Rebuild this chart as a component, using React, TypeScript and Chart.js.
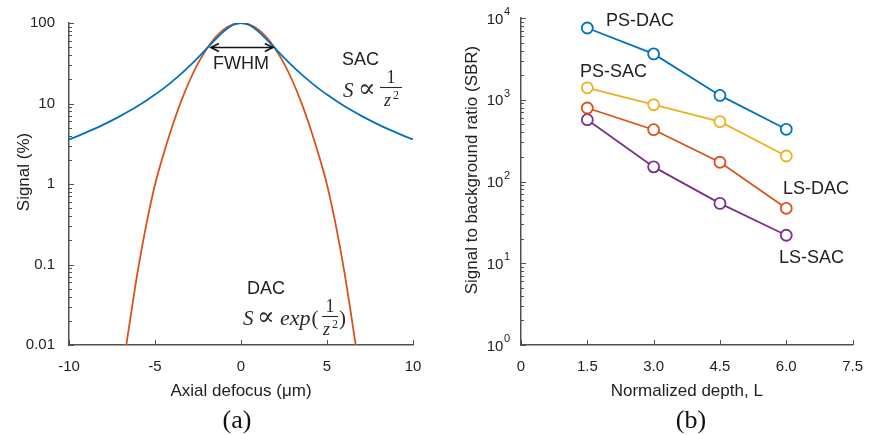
import React, { useEffect, useRef } from "react";
import { Chart, registerables } from "chart.js";

Chart.register(...registerables);

// ---------- data: panel (a) ----------
const sacDefocus = [-10, -9.5, -9, -8.5, -8, -7.5, -7, -6.5, -6, -5.5, -5, -4.5, -4, -3.5, -3, -2.5, -2, -1.5, -1, -0.5, 0, 0.5, 1, 1.5, 2, 2.5, 3, 3.5, 4, 4.5, 5, 5.5, 6, 6.5, 7, 7.5, 8, 8.5, 9, 9.5, 10];
const sacSignal = [3.57, 3.94, 4.37, 4.87, 5.46, 6.17, 7.02, 8.05, 9.32, 10.9, 12.9, 15.4, 18.8, 23.2, 29.1, 37.2, 48.1, 62.2, 78.7, 93.7, 100, 93.7, 78.7, 62.2, 48.1, 37.2, 29.1, 23.2, 18.8, 15.4, 12.9, 10.9, 9.32, 8.05, 7.02, 6.17, 5.46, 4.87, 4.37, 3.94, 3.57];
const dacDefocus = [-7, -6.5, -6, -5.5, -5, -4.5, -4, -3.5, -3, -2.5, -2, -1.5, -1, -0.5, 0, 0.5, 1, 1.5, 2, 2.5, 3, 3.5, 4, 4.5, 5, 5.5, 6, 6.5, 7];
const dacSignal = [0.0034, 0.0173, 0.0834, 0.318, 0.98, 2.36, 5.18, 10.4, 18.9, 31.5, 47.7, 66.0, 83.1, 95.5, 100, 95.5, 83.1, 66.0, 47.7, 31.5, 18.9, 10.4, 5.18, 2.36, 0.98, 0.318, 0.0834, 0.0173, 0.0034];
const aXTicks = [-10, -5, 0, 5, 10];
const aXTickLabels = ["-10", "-5", "0", "5", "10"];
const aYTicks = [0.01, 0.1, 1, 10, 100];
const aYTickLabels = ["0.01", "0.1", "1", "10", "100"];

// ---------- data: panel (b) ----------
const depthL = [1.5, 3.0, 4.5, 6.0];
const psDac = [7550, 3640, 1130, 435];
const psSac = [1400, 869, 540, 205];
const lsDac = [793, 430, 172, 47];
const lsSac = [570, 151, 54, 22];
const bXTicks = [0, 1.5, 3.0, 4.5, 6.0, 7.5];
const bXTickLabels = ["0", "1.5", "3.0", "4.5", "6.0", "7.5"];
const bYTicks = [1, 10, 100, 1000, 10000];
const bYTickBase = "10";
const bYTickExponents = ["0", "1", "2", "3", "4"];

// ---------- style ----------
const BLUE = "#0072BD";
const RED = "#D95319";
const YELLOW = "#EDB120";
const PURPLE = "#7E2F8E";
const AXIS = "#505050";
const TEXT = "#222222";
const MATH = "#2a2a2a";
const SANS = "'Liberation Sans', Arial, Helvetica, sans-serif";
const SERIF = "'Liberation Serif', 'Times New Roman', 'DejaVu Serif', serif";
const W = 438;
const H = 435;

function zip(xs: number[], ys: number[]) {
  return xs.map((x, i) => ({ x, y: ys[i] }));
}

function drawInwardTicks(chart: any) {
  const { ctx, chartArea, scales } = chart;
  const xs = scales.x;
  const ys = scales.y;
  ctx.save();
  ctx.strokeStyle = AXIS;
  ctx.lineWidth = 1;
  xs.ticks.forEach((t: any) => {
    const px = Math.round(xs.getPixelForValue(t.value)) + 0.5;
    ctx.beginPath();
    ctx.moveTo(px, chartArea.bottom);
    ctx.lineTo(px, chartArea.bottom - 5);
    ctx.stroke();
  });
  const d0 = Math.round(Math.log10(ys.min));
  const d1 = Math.round(Math.log10(ys.max));
  for (let d = d0; d <= d1; d++) {
    for (let k = 1; k <= 9; k++) {
      const v = k * Math.pow(10, d);
      if (v > ys.max * 1.0001) break;
      const py = Math.round(ys.getPixelForValue(v)) + 0.5;
      const len = k === 1 ? 5 : 3;
      ctx.beginPath();
      ctx.moveTo(chartArea.left, py);
      ctx.lineTo(chartArea.left + len, py);
      ctx.stroke();
    }
  }
  ctx.restore();
}

function rotatedText(ctx: any, text: string, x: number, y: number, size: number) {
  ctx.save();
  ctx.translate(x, y);
  ctx.rotate(-Math.PI / 2);
  ctx.font = `${size}px ${SANS}`;
  ctx.fillStyle = TEXT;
  ctx.textAlign = "center";
  ctx.textBaseline = "middle";
  ctx.fillText(text, 0, 0);
  ctx.restore();
}

function sansText(ctx: any, text: string, x: number, y: number, size: number, align: string = "left") {
  ctx.save();
  ctx.font = `${size}px ${SANS}`;
  ctx.fillStyle = TEXT;
  ctx.textAlign = align;
  ctx.textBaseline = "middle";
  ctx.fillText(text, x, y);
  ctx.restore();
}

// draws math text, returns its width
function mathText(ctx: any, text: string, x: number, y: number, size: number, italic: boolean, align: string = "left") {
  ctx.save();
  ctx.font = `${italic ? "italic " : ""}${size}px ${SERIF}`;
  ctx.fillStyle = MATH;
  ctx.textAlign = align;
  ctx.textBaseline = "alphabetic";
  ctx.fillText(text, x, y);
  const w = ctx.measureText(text).width;
  ctx.restore();
  return w;
}

// fraction 1 / z^2 with bar from x0 to x1 at barY
function fracOneOverZ2(ctx: any, x0: number, x1: number, barY: number) {
  const cx = (x0 + x1) / 2;
  mathText(ctx, "1", cx, barY - 4, 18, false, "center");
  ctx.save();
  ctx.strokeStyle = MATH;
  ctx.lineWidth = 1.1;
  ctx.beginPath();
  ctx.moveTo(x0, barY + 0.5);
  ctx.lineTo(x1, barY + 0.5);
  ctx.stroke();
  ctx.restore();
  mathText(ctx, "z", cx - 3.5, barY + 19, 18, true, "center");
  mathText(ctx, "2", cx + 5, barY + 12, 12, false, "center");
}

function arrowHead(ctx: any, x: number, y: number, dir: number) {
  ctx.beginPath();
  ctx.moveTo(x + dir * 8, y - 4);
  ctx.lineTo(x, y);
  ctx.lineTo(x + dir * 8, y + 4);
  ctx.stroke();
}

function panelLabel(ctx: any, text: string, x: number, y: number) {
  ctx.save();
  ctx.font = `26px ${SERIF}`;
  ctx.fillStyle = "#111";
  ctx.textAlign = "center";
  ctx.textBaseline = "middle";
  ctx.fillText(text, x, y);
  ctx.restore();
}

const FWHM_FROM = -1.75;
const FWHM_TO = 1.85;
const FWHM_LEVEL = 51;

const panelAPlugin = {
  id: "panelA",
  afterDraw(chart: any) {
    const { ctx, scales } = chart;
    drawInwardTicks(chart);
    rotatedText(ctx, "Signal (%)", 24, 172, 17);
    // FWHM arrow
    const x1 = scales.x.getPixelForValue(FWHM_FROM);
    const x2 = scales.x.getPixelForValue(FWHM_TO);
    const yy = Math.round(scales.y.getPixelForValue(FWHM_LEVEL)) + 0.5;
    ctx.save();
    ctx.strokeStyle = "#111";
    ctx.lineWidth = 1.6;
    ctx.beginPath();
    ctx.moveTo(x1, yy);
    ctx.lineTo(x2, yy);
    ctx.stroke();
    arrowHead(ctx, x1, yy, 1);
    arrowHead(ctx, x2, yy, -1);
    ctx.restore();
    sansText(ctx, "FWHM", 241, 64, 18, "center");
    // SAC
    sansText(ctx, "SAC", 342, 60, 18);
    mathText(ctx, "S", 343, 97, 21, true);
    mathText(ctx, "\u221D", 358, 97, 26, false);
    fracOneOverZ2(ctx, 380, 402, 87);
    // DAC
    sansText(ctx, "DAC", 247, 289, 18);
    mathText(ctx, "S", 243, 325, 21, true);
    mathText(ctx, "\u221D", 257, 325, 26, false);
    const ew = mathText(ctx, "exp", 280, 325, 22, true);
    mathText(ctx, "(", 280 + ew + 1, 325, 21, false);
    fracOneOverZ2(ctx, 322, 338, 316);
    mathText(ctx, ")", 339, 325, 21, false);
    panelLabel(ctx, "(a)", 237, 421);
  },
};

const panelBPlugin = {
  id: "panelB",
  afterDraw(chart: any) {
    const { ctx, scales, chartArea } = chart;
    drawInwardTicks(chart);
    // power-of-ten tick labels
    const R = chartArea.left - 11;
    bYTicks.forEach((v, i) => {
      const py = scales.y.getPixelForValue(v);
      ctx.save();
      ctx.fillStyle = TEXT;
      ctx.textBaseline = "alphabetic";
      ctx.font = `11px ${SANS}`;
      const ew = ctx.measureText(bYTickExponents[i]).width;
      ctx.textAlign = "left";
      ctx.fillText(bYTickExponents[i], R - ew, py - 3);
      ctx.font = `15px ${SANS}`;
      ctx.textAlign = "right";
      ctx.fillText(bYTickBase, R - ew - 0.5, py + 5.5);
      ctx.restore();
    });
    rotatedText(ctx, "Signal to background ratio (SBR)", 34, 170, 17);
    sansText(ctx, "PS-DAC", 168, 21, 18);
    sansText(ctx, "PS-SAC", 142, 72, 18);
    sansText(ctx, "LS-DAC", 345, 189, 18);
    sansText(ctx, "LS-SAC", 341, 258, 18);
    panelLabel(ctx, "(b)", 253, 421);
  },
};

function xScale(min: number, max: number, ticks: number[], labels: string[], title: string) {
  return {
    type: "linear",
    min,
    max,
    grid: { display: false, drawTicks: false },
    border: { display: true, color: AXIS, width: 1.5 },
    afterBuildTicks: (s: any) => {
      s.ticks = ticks.map((v) => ({ value: v }));
    },
    afterFit: (s: any) => {
      s.height = 90;
    },
    ticks: {
      padding: 13,
      color: TEXT,
      font: { size: 15, family: SANS },
      maxRotation: 0,
      autoSkip: false,
      callback: (_v: any, i: number) => labels[i],
    },
    title: {
      display: true,
      text: title,
      color: TEXT,
      font: { size: 17, family: SANS },
      padding: { top: 0, bottom: 33 },
    },
  };
}

function yScale(min: number, max: number, ticks: number[], labels: string[] | null, width: number, pad: number) {
  return {
    type: "logarithmic",
    min,
    max,
    grid: { display: false, drawTicks: false },
    border: { display: true, color: AXIS, width: 1.5 },
    afterBuildTicks: (s: any) => {
      s.ticks = ticks.map((v) => ({ value: v }));
    },
    afterFit: (s: any) => {
      s.width = width;
    },
    ticks: {
      display: labels !== null,
      padding: pad,
      color: TEXT,
      font: { size: 15, family: SANS },
      autoSkip: false,
      callback: (_v: any, i: number) => (labels ? labels[i] : ""),
    },
  };
}

function configA(): any {
  return {
    type: "line",
    data: {
      datasets: [
        {
          label: "SAC",
          data: zip(sacDefocus, sacSignal),
          borderColor: BLUE,
          borderWidth: 1.8,
          pointRadius: 0,
          cubicInterpolationMode: "monotone",
          clip: 0,
        },
        {
          label: "DAC",
          data: zip(dacDefocus, dacSignal),
          borderColor: RED,
          borderWidth: 1.8,
          pointRadius: 0,
          cubicInterpolationMode: "monotone",
          clip: 0,
        },
      ],
    },
    options: {
      responsive: false,
      animation: false,
      devicePixelRatio: 1,
      layout: { padding: { left: 0, right: 25, top: 18, bottom: 0 } },
      plugins: { legend: { display: false }, tooltip: { enabled: false } },
      scales: {
        x: xScale(-10, 10, aXTicks, aXTickLabels, "Axial defocus (\u03BCm)"),
        y: yScale(0.01, 100, aYTicks, aYTickLabels, 69, 14),
      },
    },
    plugins: [panelAPlugin],
  };
}

function seriesB(label: string, values: number[], color: string) {
  return {
    label,
    data: zip(depthL, values),
    borderColor: color,
    borderWidth: 1.8,
    pointRadius: 5.5,
    pointBorderWidth: 1.8,
    pointBorderColor: color,
    pointBackgroundColor: "#ffffff",
    tension: 0,
  };
}

function configB(): any {
  return {
    type: "line",
    data: {
      datasets: [
        seriesB("PS-DAC", psDac, BLUE),
        seriesB("LS-DAC", lsDac, RED),
        seriesB("PS-SAC", psSac, YELLOW),
        seriesB("LS-SAC", lsSac, PURPLE),
      ],
    },
    options: {
      responsive: false,
      animation: false,
      devicePixelRatio: 1,
      layout: { padding: { left: 0, right: 12, top: 18, bottom: 0 } },
      plugins: { legend: { display: false }, tooltip: { enabled: false } },
      scales: {
        x: xScale(0, 7.5, bXTicks, bXTickLabels, "Normalized depth, L"),
        y: yScale(1, 10000, bYTicks, null, 83, 11),
      },
    },
    plugins: [panelBPlugin],
  };
}

function ChartCanvas({ make, left }: { make: () => any; left: number }) {
  const ref = useRef<HTMLCanvasElement>(null);
  useEffect(() => {
    const chart = new Chart(ref.current as HTMLCanvasElement, make());
    return () => chart.destroy();
  }, [make]);
  return (
    <canvas
      ref={ref}
      width={W}
      height={H}
      style={{ position: "absolute", left, top: 0, width: W, height: H }}
    />
  );
}

export default function App() {
  return (
    <div style={{ position: "absolute", left: 0, top: 0, width: 876, height: 435, background: "#fff" }}>
      <ChartCanvas make={configA} left={0} />
      <ChartCanvas make={configB} left={438} />
    </div>
  );
}
